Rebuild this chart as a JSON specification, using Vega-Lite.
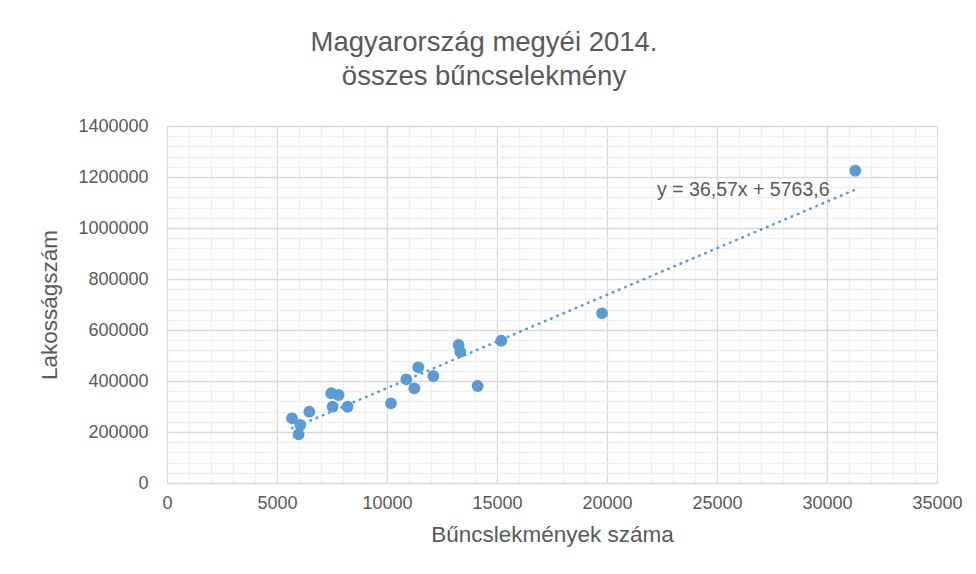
{
  "$schema": "https://vega.github.io/schema/vega-lite/v6.json",
  "autosize": "none",
  "padding": {"left": 167, "top": 126, "right": 39, "bottom": 91},
  "width": 770,
  "height": 357,
  "background": "white",
  "config": {
    "view": {"stroke": null},
    "font": "Liberation Sans"
  },
  "title": {
    "text": ["Magyarország megyéi 2014.", "összes bűncselekmény"],
    "fontSize": 27.5,
    "fontWeight": "normal",
    "font": "Liberation Sans",
    "color": "#595959",
    "lineHeight": 34,
    "anchor": "middle",
    "frame": "group",
    "dx": -68,
    "offset": 27
  },
  "datasets": {
    "counties": [
      {"crimes": 5682, "pop": 253700},
      {"crimes": 6059, "pop": 227500},
      {"crimes": 5982, "pop": 191000},
      {"crimes": 6468, "pop": 279600},
      {"crimes": 7468, "pop": 351800},
      {"crimes": 7800, "pop": 345100},
      {"crimes": 7527, "pop": 299200},
      {"crimes": 8209, "pop": 299200},
      {"crimes": 10182, "pop": 312500},
      {"crimes": 10877, "pop": 406700},
      {"crimes": 11241, "pop": 371400},
      {"crimes": 11423, "pop": 453700},
      {"crimes": 12105, "pop": 419600},
      {"crimes": 13255, "pop": 541200},
      {"crimes": 13332, "pop": 514900},
      {"crimes": 14118, "pop": 380400},
      {"crimes": 15195, "pop": 558000},
      {"crimes": 19773, "pop": 665500},
      {"crimes": 31286, "pop": 1224700}
    ],
    "note": [
      {"label": "y = 36,57x  + 5763,6", "crimes": 26195, "pop": 1149000}
    ]
  },
  "encoding": {
    "x": {
      "field": "crimes",
      "type": "quantitative",
      "scale": {"domain": [0, 35000], "nice": false},
      "axis": {
        "title": "Bűncslekmények száma",
        "titleFontSize": 22.5,
        "titleFontWeight": "normal",
        "titleColor": "#595959",
        "titleFont": "Liberation Sans",
        "titlePadding": 11,
        "values": [0,1000,2000,3000,4000,5000,6000,7000,8000,9000,10000,11000,12000,13000,14000,15000,16000,17000,18000,19000,20000,21000,22000,23000,24000,25000,26000,27000,28000,29000,30000,31000,32000,33000,34000,35000],
        "format": "d",
        "labelExpr": "datum.value % 5000 === 0 ? datum.label : ''",
        "labelOverlap": false,
        "labelFontSize": 18,
        "labelColor": "#595959",
        "labelFont": "Liberation Sans",
        "labelPadding": 11,
        "labelFlush": false,
        "ticks": false,
        "domain": false,
        "grid": true,
        "gridColor": {"condition": {"test": "datum.value % 5000 === 0", "value": "#d9d9d9"}, "value": "#f0f0f0"},
        "gridWidth": 1.3
      }
    },
    "y": {
      "field": "pop",
      "type": "quantitative",
      "scale": {"domain": [0, 1400000], "nice": false},
      "axis": {
        "title": "Lakosságszám",
        "titleFontSize": 22.5,
        "titleFontWeight": "normal",
        "titleColor": "#595959",
        "titleFont": "Liberation Sans",
        "titlePadding": 16,
        "values": [0,40000,80000,120000,160000,200000,240000,280000,320000,360000,400000,440000,480000,520000,560000,600000,640000,680000,720000,760000,800000,840000,880000,920000,960000,1000000,1040000,1080000,1120000,1160000,1200000,1240000,1280000,1320000,1360000,1400000],
        "format": "d",
        "labelExpr": "datum.value % 200000 === 0 ? datum.label : ''",
        "labelOverlap": false,
        "labelFontSize": 18,
        "labelColor": "#595959",
        "labelFont": "Liberation Sans",
        "labelPadding": 19,
        "labelFlush": false,
        "ticks": false,
        "domain": false,
        "grid": true,
        "gridColor": {"condition": {"test": "datum.value % 200000 === 0", "value": "#d9d9d9"}, "value": "#f0f0f0"},
        "gridWidth": 1.3
      }
    }
  },
  "layer": [
    {
      "data": {"name": "counties"},
      "mark": {"type": "point", "filled": true, "shape": "circle", "size": 140, "color": "#5b9bd5", "opacity": 1}
    },
    {
      "data": {"name": "counties"},
      "transform": [{"regression": "pop", "on": "crimes"}],
      "mark": {"type": "line", "color": "#5b9bd5", "strokeWidth": 2.6, "strokeDash": [0.5, 6.2], "strokeCap": "round"}
    },
    {
      "data": {"name": "note"},
      "mark": {"type": "text", "fontSize": 19.5, "fill": "#595959", "font": "Liberation Sans", "align": "center", "baseline": "middle"},
      "encoding": {
        "text": {"field": "label", "type": "nominal"}
      }
    }
  ]
}
